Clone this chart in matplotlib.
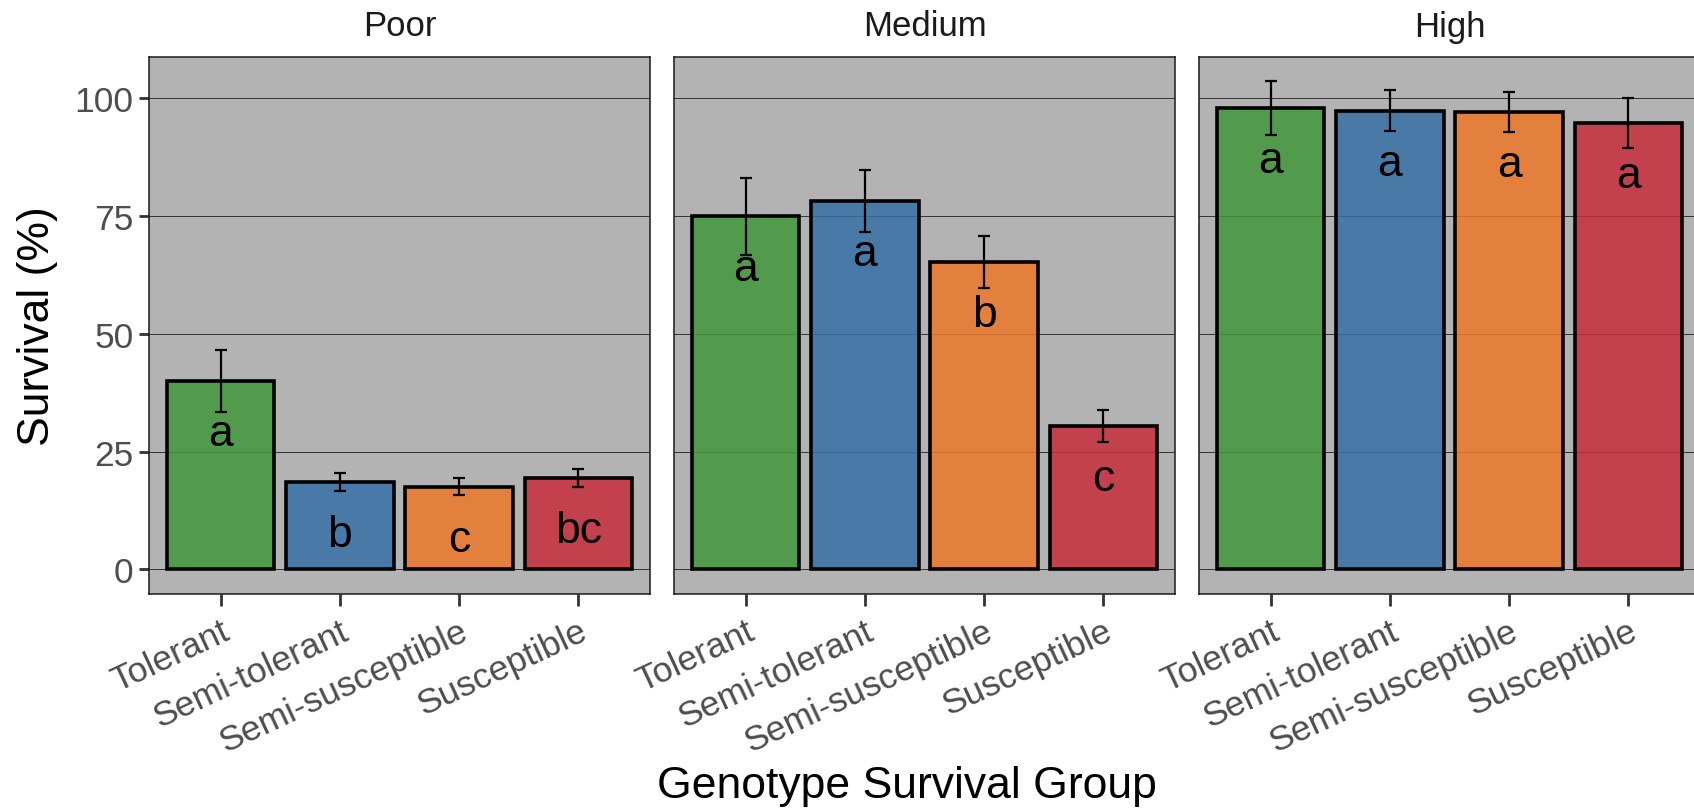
import matplotlib
matplotlib.use('Agg')
import matplotlib.pyplot as plt
import numpy as np

plt.rcParams['font.family'] = ['Liberation Sans', 'DejaVu Sans']

# Data
panels = ['Poor', 'Medium', 'High']
groups = ['Tolerant', 'Semi-tolerant', 'Semi-susceptible', 'Susceptible']
survival = {
    'Poor': [40.0, 18.5, 17.6, 19.4],
    'Medium': [74.9, 78.1, 65.3, 30.4],
    'High': [97.9, 97.3, 97.0, 94.7],
}
errors = {
    'Poor': [6.6, 1.9, 1.7, 2.0],
    'Medium': [8.1, 6.6, 5.5, 3.4],
    'High': [5.8, 4.4, 4.3, 5.4],
}
letters = {
    'Poor': ['a', 'b', 'c', 'bc'],
    'Medium': ['a', 'a', 'b', 'c'],
    'High': ['a', 'a', 'a', 'a'],
}

# fill colours (drawn semi transparent over the grey panel)
alpha = 0.85
fills = [(65, 151, 59), (55, 112, 166), (237, 119, 41), (198, 44, 59)]
fills = [(r / 255, g / 255, b / 255, alpha) for r, g, b in fills]

W, H = 1694, 812
fig = plt.figure(figsize=(W / 100, H / 100), dpi=100)

px_left = [149, 674, 1199]
px_w = 501
px_top, px_bot = 58, 595

x = np.arange(len(groups))
for i, p in enumerate(panels):
    ax = fig.add_axes([px_left[i] / W, 1 - px_bot / H, px_w / W, (px_bot - px_top) / H])
    ax.set_facecolor('#b3b3b3')
    ax.set_axisbelow(True)
    ax.yaxis.grid(True, color='#333333', linewidth=0.7)
    ax.xaxis.grid(False)

    ax.bar(x, survival[p], width=0.9, color=fills, edgecolor='black', linewidth=2.6)
    ax.errorbar(x, survival[p], yerr=errors[p], fmt='none', ecolor='black',
                elinewidth=1.6, capsize=4.5, capthick=1.6)
    for xi, v, lab in zip(x, survival[p], letters[p]):
        ax.text(xi, v - 13.6, lab, ha='center', va='baseline', fontsize=32, color='black')

    ax.set_xlim(-0.6, 3.6)
    ax.set_ylim(-5.2, 108.7)
    ax.set_yticks([0, 25, 50, 75, 100])
    ax.set_xticks(x)
    ax.set_xticklabels(groups, rotation=25, ha='right', va='top', rotation_mode='anchor',
                       fontsize=25.5, color='#4d4d4d')
    ax.tick_params(axis='x', length=8.5, width=2, color='#333333', pad=6)
    if i == 0:
        ax.tick_params(axis='y', length=7, width=2, color='#333333', labelsize=25.5,
                       labelcolor='#4d4d4d', pad=4)
    else:
        ax.tick_params(axis='y', left=False, labelleft=False)

    for s in ax.spines.values():
        s.set_color('#1a1a1a')
        s.set_linewidth(1.1)

    ax.text(0.5, 1 + 31 / (px_bot - px_top), p, transform=ax.transAxes, ha='center',
            va='center', fontsize=25, color='#1a1a1a')

fig.text(38 / W, 1 - ((px_top + px_bot) / 2) / H, 'Survival (%)', rotation=90,
         ha='center', va='center', fontsize=32, color='black')
fig.text(907 / W, 1 - 787 / H, 'Genotype Survival Group',
         ha='center', va='center', fontsize=32, color='black')

plt.savefig('out.png', dpi=100)
